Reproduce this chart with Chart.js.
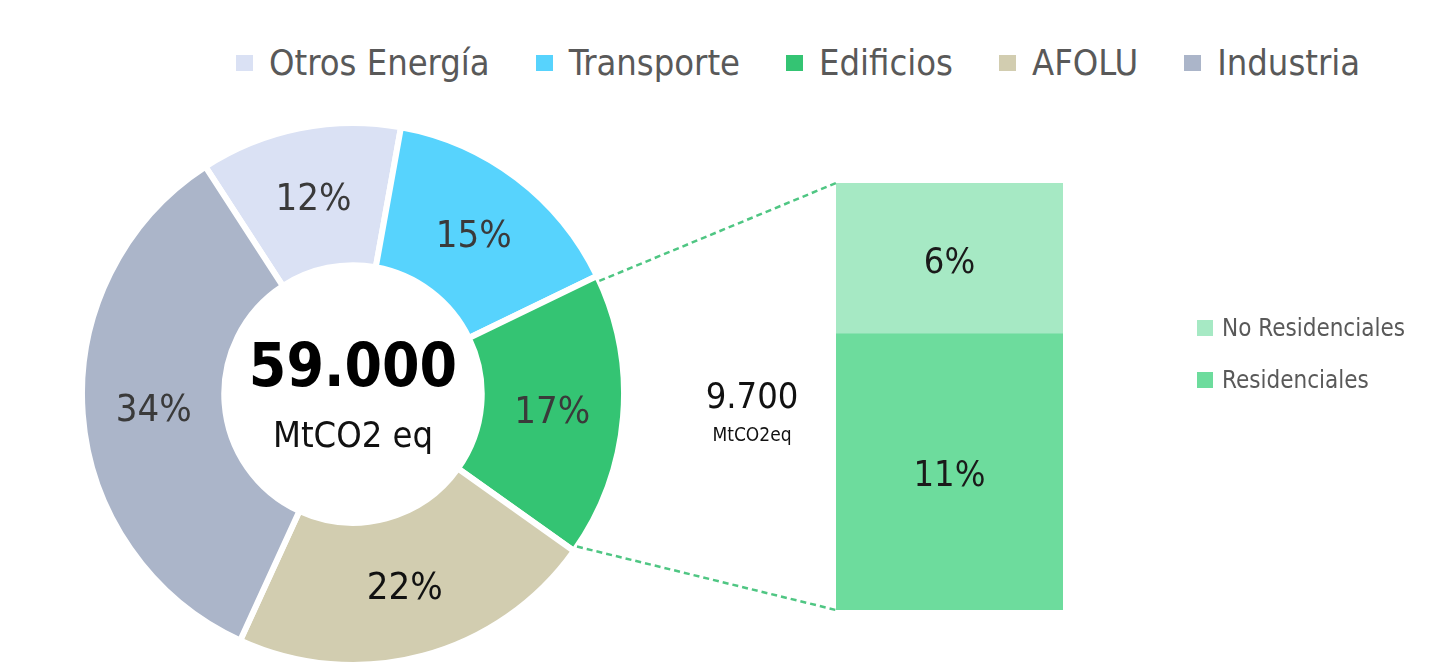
<!DOCTYPE html>
<html>
<head>
<meta charset="utf-8">
<script src="https://cdn.jsdelivr.net/npm/chart.js@4.4.1/dist/chart.umd.min.js"></script>
<style>
  html, body { margin: 0; padding: 0; background: #fff; }
  #wrap { position: relative; width: 1446px; height: 668px; overflow: hidden; font-family: "Liberation Sans Narrow", "DejaVu Sans Condensed", "Roboto", sans-serif; }
  #legendTop { position: absolute; left: 236px; top: 42px; display: flex; align-items: center; gap: 46px; font-size: 36px; color: #595959; white-space: nowrap; }
  #legendTop .item, #legendRight .item { display: flex; align-items: center; }
  #legendTop .box { width: 17px; height: 16px; margin-right: 16px; }
  #legendRight { position: absolute; left: 1197px; top: 302px; font-size: 24px; color: #595959; white-space: nowrap; }
  #legendRight .item { height: 52px; }
  #legendRight .box { width: 16px; height: 16px; margin-right: 9px; }
  #overlay { position: absolute; left: 0; top: 0; width: 1446px; height: 668px; pointer-events: none; }
  #subTotal { position: absolute; left: 672px; top: 376px; width: 160px; text-align: center; color: #111; }
  #subTotal .v { font-size: 36px; line-height: 40px; }
  #subTotal .u { font-size: 19px; line-height: 36px; }
</style>
</head>
<body>
<div id="wrap">
  <div id="legendTop"></div>
  <div style="position:absolute;left:79px;top:120px;width:548px;height:548px;"><canvas id="pieCanvas"></canvas></div>
  <div style="position:absolute;left:836px;top:183px;width:227px;height:427px;"><canvas id="barCanvas"></canvas></div>
  <canvas id="overlay" width="1446" height="668"></canvas>
  <div id="subTotal"><div class="v"></div><div class="u"></div></div>
  <div id="legendRight"></div>
</div>
<script>
// ---- Data ----
const sectorLabels = ["Otros Energía", "Transporte", "Edificios", "AFOLU", "Industria"];
const sectorValues = [12, 15, 17, 22, 34];
const sectorColors = ["#dae1f4", "#57d3fd", "#34c473", "#d2cdb0", "#abb5c9"];
const totalValue = "59.000";
const totalUnit = "MtCO2 eq";

const buildingCategory = ["Edificios"];
const residencialesValues = [11];
const noResidencialesValues = [6];
const buildingLabels = ["No Residenciales", "Residenciales"];
const buildingColors = ["#a6e9c4", "#6ddc9d"];
const buildingTotal = "9.700";
const buildingUnit = "MtCO2eq";

const FONT = '"Liberation Sans Narrow", "DejaVu Sans Condensed", Roboto, sans-serif';
let pieChart = null;
let barChart = null;

// ---- HTML legends ----
const lt = document.getElementById('legendTop');
sectorLabels.forEach((l, i) => {
  const it = document.createElement('div'); it.className = 'item';
  const b = document.createElement('span'); b.className = 'box'; b.style.background = sectorColors[i];
  const t = document.createElement('span'); t.textContent = l;
  it.appendChild(b); it.appendChild(t); lt.appendChild(it);
});
const lr = document.getElementById('legendRight');
buildingLabels.forEach((l, i) => {
  const it = document.createElement('div'); it.className = 'item';
  const b = document.createElement('span'); b.className = 'box'; b.style.background = buildingColors[i];
  const t = document.createElement('span'); t.textContent = l;
  it.appendChild(b); it.appendChild(t); lr.appendChild(it);
});
document.querySelector('#subTotal .v').textContent = buildingTotal;
document.querySelector('#subTotal .u').textContent = buildingUnit;

// ---- Doughnut ----
const pieLabelsPlugin = {
  id: 'pieLabels',
  afterDatasetsDraw(chart) {
    const ctx = chart.ctx;
    const meta = chart.getDatasetMeta(0);
    ctx.save();
    ctx.textAlign = 'center';
    ctx.textBaseline = 'middle';
    meta.data.forEach((arc, i) => {
      const p = arc.tooltipPosition();
      ctx.fillStyle = i === 3 ? '#111' : '#3a3a3a';
      ctx.font = '38px ' + FONT;
      ctx.fillText(sectorValues[i] + '%', p.x, p.y + 2);
    });
    const a = meta.data[0];
    ctx.fillStyle = '#000';
    ctx.font = 'bold 60px ' + FONT;
    ctx.fillText(totalValue, a.x, a.y - 24);
    ctx.fillStyle = '#111';
    ctx.font = '36px ' + FONT;
    ctx.fillText(totalUnit, a.x, a.y + 44);
    ctx.restore();
  }
};

pieChart = new Chart(document.getElementById('pieCanvas'), {
  type: 'doughnut',
  data: {
    labels: sectorLabels,
    datasets: [{ data: sectorValues, backgroundColor: sectorColors, borderColor: '#ffffff', borderWidth: 6 }]
  },
  options: {
    responsive: true, maintainAspectRatio: false, animation: false,
    rotation: -33, cutout: '47.5%',
    layout: { padding: 0 },
    plugins: { legend: { display: false }, tooltip: { enabled: false } }
  },
  plugins: [pieLabelsPlugin]
});

// ---- Stacked bar ----
const barLabelsPlugin = {
  id: 'barLabels',
  afterDatasetsDraw(chart) {
    const ctx = chart.ctx;
    ctx.save();
    ctx.textAlign = 'center';
    ctx.textBaseline = 'middle';
    ctx.fillStyle = '#1a1a1a';
    ctx.font = '36px ' + FONT;
    chart.data.datasets.forEach((ds, di) => {
      chart.getDatasetMeta(di).data.forEach((bar, j) => {
        const cy = (bar.y + bar.base) / 2;
        ctx.fillText(ds.data[j] + '%', bar.x, cy + 5);
      });
    });
    ctx.restore();
  },
  afterRender() { drawConnectors(); }
};

barChart = new Chart(document.getElementById('barCanvas'), {
  type: 'bar',
  data: {
    labels: buildingCategory,
    datasets: [
      { label: buildingLabels[1], data: residencialesValues, backgroundColor: buildingColors[1], barPercentage: 1, categoryPercentage: 1 },
      { label: buildingLabels[0], data: noResidencialesValues, backgroundColor: buildingColors[0], barPercentage: 1, categoryPercentage: 1 }
    ]
  },
  options: {
    responsive: true, maintainAspectRatio: false, animation: false,
    layout: { padding: 0 },
    scales: {
      x: { stacked: true, display: false },
      y: { stacked: true, display: false, min: 0, max: residencialesValues[0] + noResidencialesValues[0] }
    },
    plugins: { legend: { display: false }, tooltip: { enabled: false } }
  },
  plugins: [barLabelsPlugin]
});

// ---- Dashed connectors ----
function drawConnectors() {
  if (!pieChart || !barChart) return;
  const ov = document.getElementById('overlay');
  const ctx = ov.getContext('2d');
  ctx.clearRect(0, 0, ov.width, ov.height);
  const wrapRect = document.getElementById('wrap').getBoundingClientRect();
  const pr = pieChart.canvas.getBoundingClientRect();
  const br = barChart.canvas.getBoundingClientRect();
  const arc = pieChart.getDatasetMeta(0).data[2];
  const R = arc.outerRadius;
  const px = pr.left - wrapRect.left, py = pr.top - wrapRect.top;
  const bx = br.left - wrapRect.left, by = br.top - wrapRect.top;
  const s = { x: px + arc.x + R * Math.cos(arc.startAngle + 0.02), y: py + arc.y + R * Math.sin(arc.startAngle + 0.02) };
  const e = { x: px + arc.x + R * Math.cos(arc.endAngle - 0.02), y: py + arc.y + R * Math.sin(arc.endAngle - 0.02) };
  const topBar = barChart.getDatasetMeta(1).data[0];
  const botBar = barChart.getDatasetMeta(0).data[0];
  const left = bx + topBar.x - topBar.width / 2;
  ctx.save();
  ctx.strokeStyle = '#4fc683';
  ctx.lineWidth = 2.5;
  ctx.setLineDash([6, 4]);
  ctx.beginPath();
  ctx.moveTo(s.x, s.y); ctx.lineTo(left, by + topBar.y);
  ctx.moveTo(e.x, e.y); ctx.lineTo(left, by + botBar.base);
  ctx.stroke();
  ctx.restore();
}
drawConnectors();
</script>
</body>
</html>
